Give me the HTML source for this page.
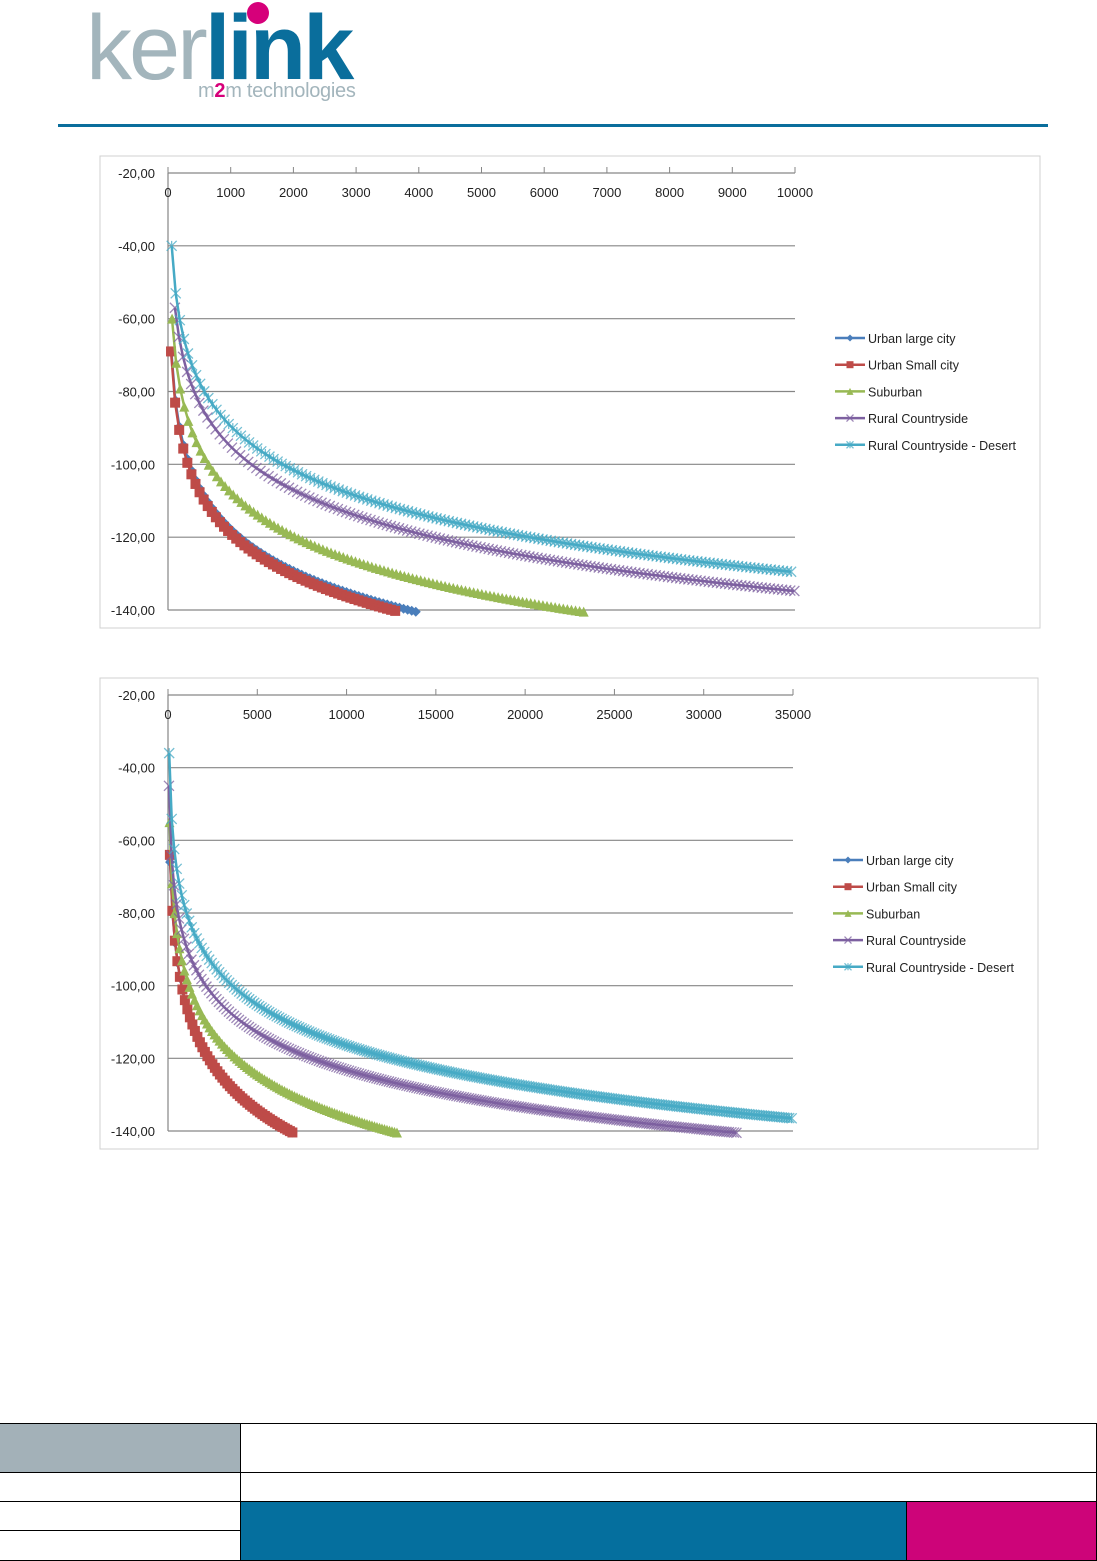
<!DOCTYPE html>
<html><head><meta charset="utf-8"><style>
body{margin:0;background:#fff;width:1097px;height:1561px;overflow:hidden;position:relative;font-family:"Liberation Sans",sans-serif}
.abs{position:absolute}
</style></head><body>
<div class="abs" style="left:86px;top:-2px;font-size:92px;letter-spacing:-3px;line-height:100px;font-family:'Liberation Sans',sans-serif"><span style="color:#a3b5bc">ker</span><span style="color:#0a6e9c;font-weight:bold">link</span></div>
<div class="abs" style="left:247px;top:2px;width:22px;height:22px;border-radius:50%;background:#d6007a"></div>
<div class="abs" style="left:198px;top:80px;font-size:20px;color:#a3b5bc;letter-spacing:-0.3px">m<b style="color:#d6007a">2</b>m technologies</div>
<div class="abs" style="left:58px;top:124px;width:990px;height:3px;background:#0a6e9c"></div>

<svg class="abs" style="left:0;top:0" width="1097" height="1561" id="s"></svg>

<div class="abs" style="left:0;top:1423px;width:1097px;height:138px">
<div class="abs" style="left:0;top:0;width:241px;height:50px;background:#a3b1b8"></div>
<div class="abs" style="left:241px;top:79px;width:666px;height:59px;background:#056f9e"></div>
<div class="abs" style="left:907px;top:79px;width:190px;height:59px;background:#cd0479"></div>
<div class="abs" style="left:0;top:0;width:1097px;height:1px;background:#000"></div>
<div class="abs" style="left:0;top:49px;width:1097px;height:1px;background:#000"></div>
<div class="abs" style="left:0;top:78px;width:1097px;height:1px;background:#000"></div>
<div class="abs" style="left:0;top:107px;width:241px;height:1px;background:#000"></div>
<div class="abs" style="left:0;top:137px;width:1097px;height:1px;background:#000"></div>
<div class="abs" style="left:240px;top:0;width:1px;height:138px;background:#000"></div>
<div class="abs" style="left:906px;top:79px;width:1px;height:59px;background:#000"></div>
<div class="abs" style="left:1096px;top:0;width:1px;height:138px;background:#000"></div>
</div>

<script>
var S=document.getElementById('s'),h='';
function chart(o){
 var bx=o.box;h+='<rect x="'+bx[0]+'" y="'+bx[1]+'" width="'+(bx[2]-bx[0])+'" height="'+(bx[3]-bx[1])+'" fill="none" stroke="#d0d0d0"/>';
 var x0=168,x1=o.xr,y20=o.y20,y140=o.y140,pdB=(y140-y20)/120;
 function Y(v){return y20+(-20-v)*pdB}
 function X(d){return x0+(x1-x0)*d/o.xmax}
 for(var v=-40;v>=-140;v-=20){h+='<line x1="'+x0+'" x2="'+x1+'" y1="'+Y(v)+'" y2="'+Y(v)+'" stroke="#868686" stroke-width="1.2"/>';}
 for(var v=-20;v>=-140;v-=20){h+='<text x="155" y="'+(Y(v)+5)+'" text-anchor="end" font-size="13" fill="#222">'+v+',00</text>';}
 h+='<line x1="'+x0+'" x2="'+x1+'" y1="'+y20+'" y2="'+y20+'" stroke="#868686" stroke-width="1.2"/>';
 h+='<line x1="'+x0+'" x2="'+x0+'" y1="'+y20+'" y2="'+y140+'" stroke="#868686" stroke-width="1.2"/>';
 for(var d=0;d<=o.xmax;d+=o.xt){var x=X(d);h+='<line x1="'+x+'" x2="'+x+'" y1="'+(y20-6)+'" y2="'+y20+'" stroke="#868686"/><text x="'+x+'" y="'+(y20+24)+'" text-anchor="middle" font-size="13" fill="#222">'+d+'</text>';}
 var cols=['#4a7ebb','#be4b48','#98b954','#7d60a0','#46aac5'];
 o.s.forEach(function(s,i){
  var c=cols[i],pts=[],mk='';
  var d0=Math.pow(10,(s.a-s.st)/s.b);
  for(var d=d0;;d+=o.step){var L=s.a-s.b*Math.log10(d);if(L<-140.5||d>o.xmax)break;pts.push([X(d),Y(L)]);}
  var p='M'+pts.map(function(q){return q[0].toFixed(1)+','+q[1].toFixed(1)}).join('L');
  pts.forEach(function(q){mk+=marker(i,q[0],q[1],c,o.ms);});
  h+='<g>'+mk+'<path d="'+p+'" fill="none" stroke="'+c+'" stroke-width="2.5"/></g>';
 });
 var names=['Urban large city','Urban Small city','Suburban','Rural Countryside','Rural Countryside - Desert'];
 names.forEach(function(n,i){var y=o.ly+i*26.7,c=cols[i];
  h+='<line x1="'+o.lx+'" x2="'+(o.lx+30)+'" y1="'+y+'" y2="'+y+'" stroke="'+c+'" stroke-width="2.5"/>'+marker(i,o.lx+15,y,c,7)+
  '<text x="'+(o.lx+33)+'" y="'+(y+5)+'" font-size="12.5" fill="#222">'+n+'</text>';});
}
function marker(i,x,y,c,s){var r=s/2;
 if(i==0)return '<path d="M'+x+','+(y-r)+'L'+(x+r)+','+y+'L'+x+','+(y+r)+'L'+(x-r)+','+y+'Z" fill="'+c+'"/>';
 if(i==1)return '<rect x="'+(x-r)+'" y="'+(y-r)+'" width="'+s+'" height="'+s+'" fill="'+c+'"/>';
 if(i==2)return '<path d="M'+x+','+(y-r)+'L'+(x+r)+','+(y+r)+'L'+(x-r)+','+(y+r)+'Z" fill="'+c+'"/>';
 var st=' stroke="'+c+'" stroke-width="1.3" opacity="0.75"';
 var t='<path d="M'+(x-r)+','+(y-r)+'L'+(x+r)+','+(y+r)+'M'+(x+r)+','+(y-r)+'L'+(x-r)+','+(y+r)+(i==4?'M'+x+','+(y-r)+'L'+x+','+(y+r):'')+'"'+st+'/>';
 return t;
}
chart({box:[100,156,1040,628],xr:795,y20:173,y140:610,xmax:10000,xt:1000,step:65,ms:10,lx:835,ly:338,
 s:[{a:-3.8,b:38,st:-69},{a:-5,b:38,st:-69},{a:12.4,b:40,st:-60},{a:24,b:39.7,st:-57},{a:30.8,b:40.1,st:-40}]});
chart({box:[100,678,1038,1149],xr:793,y20:695,y140:1131,xmax:35000,xt:5000,step:140,ms:10,lx:833,ly:860,
 s:[{a:21,b:42,st:-66},{a:21,b:42,st:-64},{a:19.8,b:39,st:-55},{a:14.4,b:34.4,st:-45},{a:31.6,b:37,st:-36}]});
S.innerHTML=h;
</script>
</body></html>
